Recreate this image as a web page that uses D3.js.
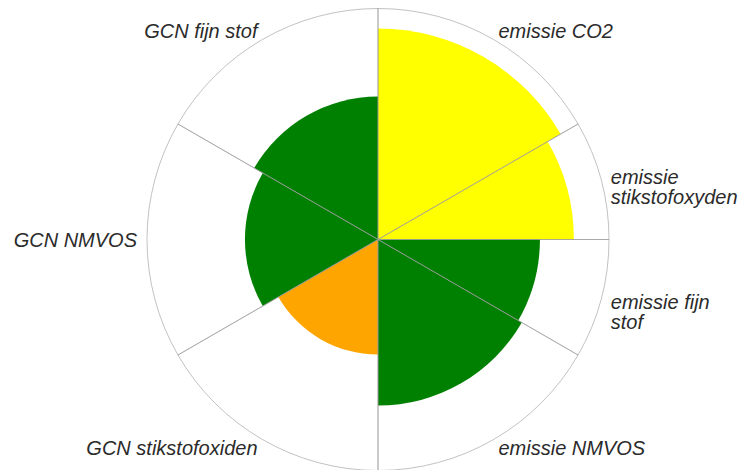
<!DOCTYPE html>
<html>
<head>
<meta charset="utf-8">
<script src="https://cdn.jsdelivr.net/npm/d3@7"></script>
<style>
  body { margin: 0; background: #fff; }
  svg text { font-family: "Liberation Sans", Arial, sans-serif; font-style: italic; fill: #2b2b2b; }
</style>
</head>
<body>
<div id="chart"></div>
<script>
// categories, clockwise from 12 o'clock
const categories = ["emissie CO2", "emissie stikstofoxyden", "emissie fijn stof", "emissie NMVOS",
                    "GCN stikstofoxiden", "GCN NMVOS", "GCN fijn stof"];
// sector width in degrees
const spans = [60, 30, 30, 60, 60, 60, 60];
// score (0-100) -> radius
const values = [91.3, 84.8, 70.1, 71.9, 49.8, 57.6, 61.9];
const status = ["geel", "geel", "groen", "groen", "oranje", "groen", "groen"];

const width = 740, height = 470;
const cx = 378, cy = 239.5, R = 231;

const color = d3.scaleOrdinal()
  .domain(["groen", "geel", "oranje"])
  .range(["#008000", "#ffff00", "#ffa500"]);

const r = d3.scaleLinear().domain([0, 100]).range([0, R]);

const svg = d3.select("#chart").append("svg")
  .attr("width", width)
  .attr("height", height);

const g = svg.append("g").attr("transform", `translate(${cx},${cy})`);

// start/end angles from the spans
const pie = d3.pie().sort(null).value((d, i) => spans[i]);
const slices = pie(categories).map((s, i) => ({
  ...s, name: categories[i], value: values[i], status: status[i]
}));

const arc = d3.arc().innerRadius(0);

// data wedges
g.selectAll("path.wedge")
  .data(slices)
  .join("path")
  .attr("class", "wedge")
  .attr("fill", d => color(d.status))
  .attr("d", d => arc.outerRadius(r(d.value))(d));

// outline of the full sectors
g.selectAll("path.frame")
  .data(slices)
  .join("path")
  .attr("class", "frame")
  .attr("fill", "none")
  .attr("stroke", "#999")
  .attr("stroke-width", 0.6)
  .attr("d", d => arc.outerRadius(R)(d));

// labels
const labelR = R + 10;
const lineH = 20;
g.selectAll("text.lbl")
  .data(slices)
  .join("text")
  .attr("class", "lbl")
  .style("font-size", "20px")
  .each(function (d) {
    const a = (d.startAngle + d.endAngle) / 2;
    const x = labelR * Math.sin(a);
    const y = -labelR * Math.cos(a);
    const right = x > 1;
    const t = d3.select(this)
      .attr("text-anchor", right ? "start" : "end")
      .attr("x", x)
      .attr("y", y);
    const maxW = right ? width - (cx + x) - 4 : cx + x - 4;
    const words = d.name.split(" ");
    let line = [];
    let ts = t.append("tspan").attr("x", x).attr("dy", "0.35em");
    for (const w of words) {
      line.push(w);
      ts.text(line.join(" "));
      if (ts.node().getComputedTextLength() > maxW && line.length > 1) {
        line.pop();
        ts.text(line.join(" "));
        line = [w];
        ts = t.append("tspan").attr("x", x).attr("dy", lineH).text(w);
      }
    }
  });
</script>
</body>
</html>
